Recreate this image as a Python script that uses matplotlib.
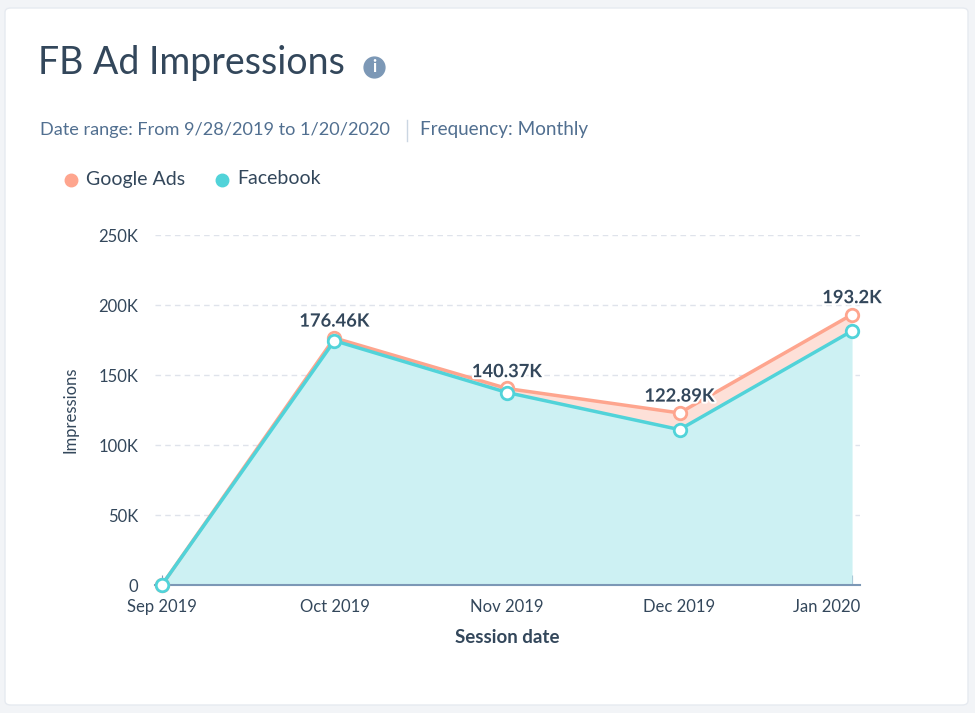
import matplotlib.pyplot as plt
import matplotlib.transforms as mtransforms
from matplotlib.patches import FancyBboxPatch
import matplotlib.patheffects as pe

months = ['Sep 2019', 'Oct 2019', 'Nov 2019', 'Dec 2019', 'Jan 2020']
facebook = [0, 174500, 137500, 111000, 181500]
google_ads = [0, 1960, 2870, 11890, 11700]
totals = [f + g for f, g in zip(facebook, google_ads)]
total_labels = ['', '176.46K', '140.37K', '122.89K', '193.2K']
y_ticks = [0, 50000, 100000, 150000, 200000, 250000]
y_tick_labels = ['0', '50K', '100K', '150K', '200K', '250K']

fb_line = '#51d3d9'
fb_fill = '#cdf1f3'
ga_line = '#fea58e'
ga_fill = '#fde0d8'
dark = '#33475b'
mid = '#516f90'

plt.rcParams['font.family'] = ['Lato', 'DejaVu Sans']

fig = plt.figure(figsize=(9.75, 7.13), dpi=100)
fig.patch.set_facecolor('#f2f4f7')
card = FancyBboxPatch((5 / 975, 8 / 713), 963 / 975, 697 / 713,
                      boxstyle='round,pad=0,rounding_size=0.006',
                      transform=fig.transFigure, facecolor='white',
                      edgecolor='#e6eaf0', linewidth=1, zorder=-10)
fig.patches.append(card)


def dot(px, py, size, color):
    fig.add_artist(plt.Line2D([px / 975], [1 - py / 713], transform=fig.transFigure,
                              marker='o', markersize=size, color=color, lw=0))


# header texts
fig.text(38 / 975, 1 - 63 / 713, 'FB Ad Impressions', fontsize=27,
         color=dark, va='center')
dot(374, 67, 15, '#7c98b6')
fig.text(374 / 975, 1 - 67 / 713, 'i', fontsize=12, fontweight='bold',
         color='white', ha='center', va='center')
fig.text(40 / 975, 1 - 130 / 713, 'Date range: From 9/28/2019 to 1/20/2020',
         fontsize=13.1, color=mid, va='center')
fig.add_artist(plt.Line2D([407 / 975, 407 / 975], [1 - 120 / 713, 1 - 141 / 713],
                          transform=fig.transFigure, color='#cbd6e2', lw=1))
fig.text(420 / 975, 1 - 130 / 713, 'Frequency: Monthly',
         fontsize=13.6, color=mid, va='center')

# legend
for cx, tx, name, col in [(71, 86, 'Google Ads', ga_line), (222, 237, 'Facebook', fb_line)]:
    dot(cx, 180, 9, col)
    fig.text(tx / 975, 1 - 179 / 713, name, fontsize=14, color=dark, va='center')

ax = fig.add_axes([155 / 975, 128 / 713, 705 / 975, 350 / 713])
ax.patch.set_alpha(0)
x = list(range(len(months)))

ax.fill_between(x, 0, facebook, color=fb_fill, lw=0, zorder=1)
ax.fill_between(x, facebook, totals, color=ga_fill, lw=0, zorder=1)
ax.plot(x, totals, color=ga_line, lw=2.5, marker='o', markersize=9,
        markerfacecolor='white', markeredgecolor=ga_line, markeredgewidth=2,
        zorder=3, clip_on=False)
ax.plot(x, facebook, color=fb_line, lw=2.5, marker='o', markersize=9,
        markerfacecolor='white', markeredgecolor=fb_line, markeredgewidth=2,
        zorder=4, clip_on=False)

for xi, t, lab in zip(x, totals, total_labels):
    if lab:
        ax.annotate(lab, (xi, t), xytext=(0, 6), textcoords='offset points',
                    ha='center', va='bottom', fontsize=13.2, fontweight='bold',
                    color=dark, zorder=5,
                    path_effects=[pe.withStroke(linewidth=3, foreground='white')])

ax.set_xlim(-0.04, 4.046)
ax.set_ylim(0, 250000)
ax.set_xticks(x)
ax.set_xticklabels(months)
ax.set_yticks(y_ticks)
ax.set_yticklabels(y_tick_labels)
ax.tick_params(axis='x', direction='in', length=7, color='#7c98b6', pad=10,
               labelsize=12, labelcolor=dark)
ax.tick_params(axis='y', length=0, pad=12, labelsize=12, labelcolor=dark)

# last month label sits flush with the end of the axis
last = ax.get_xticklabels()[-1]
last.set_horizontalalignment('right')
last.set_transform(last.get_transform() +
                   mtransforms.ScaledTranslation(8 / 100, 0, fig.dpi_scale_trans))

for s in ['top', 'right', 'left']:
    ax.spines[s].set_visible(False)
ax.spines['bottom'].set_color('#7c98b6')
ax.spines['bottom'].set_linewidth(1.5)
ax.set_axisbelow(True)
ax.grid(axis='y', color='#dfe3eb', linestyle=(0, (4, 3)), lw=1)

ax.set_xlabel('Session date', fontsize=13.5, fontweight='bold', color=dark, labelpad=10)
ax.set_ylabel('Impressions', fontsize=12, color=dark)
ax.yaxis.set_label_coords(-0.109, 0.5)

plt.savefig('out.png', dpi=100, facecolor=fig.get_facecolor())
